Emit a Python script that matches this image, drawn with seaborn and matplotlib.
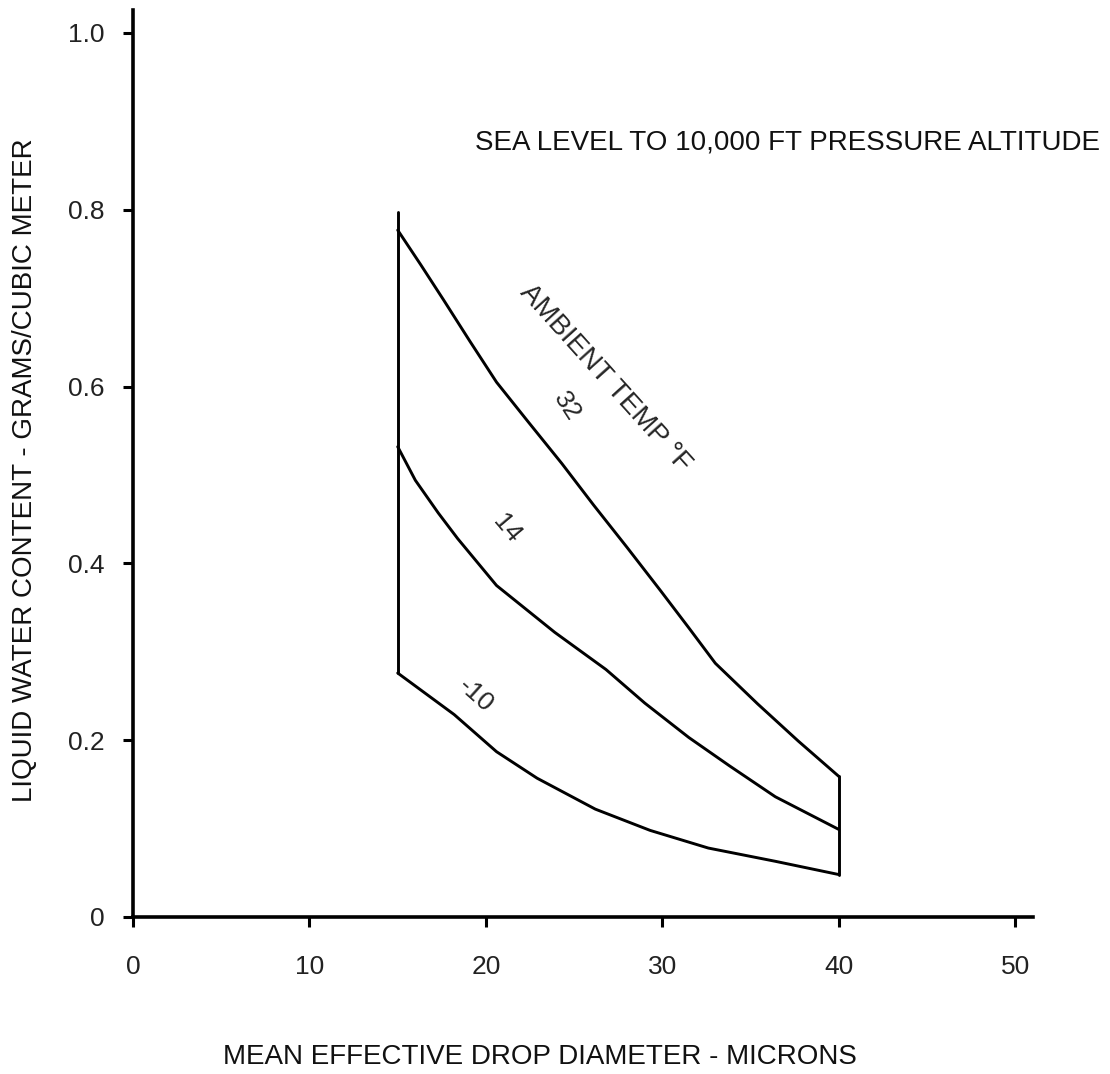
import matplotlib
matplotlib.use("Agg")
import matplotlib.pyplot as plt
import seaborn as sns
import pandas as pd

# curve data (x = microns, y = g/m^3)
x_32 = [15, 16.3, 17.6, 19.1, 20.6, 22.4, 24.3, 26.1, 28.0, 29.9, 31.5, 33.0, 35.4, 37.7, 40]
y_32 = [0.777, 0.738, 0.698, 0.651, 0.605, 0.560, 0.513, 0.466, 0.418, 0.369, 0.327, 0.287, 0.241, 0.199, 0.159]

x_14 = [15, 16.0, 17.3, 18.4, 20.6, 23.9, 26.8, 29.0, 31.5, 33.8, 36.4, 40]
y_14 = [0.532, 0.494, 0.457, 0.428, 0.375, 0.322, 0.280, 0.242, 0.203, 0.171, 0.136, 0.099]

x_m10 = [15, 18.2, 20.6, 22.9, 26.2, 29.3, 32.6, 36.4, 40]
y_m10 = [0.276, 0.229, 0.187, 0.157, 0.122, 0.098, 0.078, 0.063, 0.048]

# envelope edges
x_left = [15, 15]
y_left = [0.276, 0.797]
x_right = [40, 40]
y_right = [0.048, 0.16]

curve_labels = ["32", "14", "-10"]
x_ticks = [0, 10, 20, 30, 40, 50]
y_ticks = [0, 0.2, 0.4, 0.6, 0.8, 1.0]
y_tick_labels = ["0", "0.2", "0.4", "0.6", "0.8", "1.0"]

sns.set_style("white")
plt.rcParams['font.family'] = ['Liberation Sans', 'DejaVu Sans']

fig = plt.figure(figsize=(11.1, 10.74), dpi=100)
ax = fig.add_axes([133 / 1110, 157 / 1074, 900 / 1110, 907 / 1074])

series = [(x_32, y_32), (x_14, y_14), (x_m10, y_m10), (x_left, y_left), (x_right, y_right)]
for xs, ys in series:
    df = pd.DataFrame({"x": xs, "y": ys})
    sns.lineplot(data=df, x="x", y="y", ax=ax, color="black", linewidth=2.1,
                 sort=False, estimator=None)

ax.set_xlim(0, 51.0)
ax.set_ylim(0, 1.026)
ax.set_xticks(x_ticks)
ax.set_xticklabels([str(t) for t in x_ticks])
ax.set_yticks(y_ticks)
ax.set_yticklabels(y_tick_labels)
ax.set_xlabel("")
ax.set_ylabel("")

for side in ["top", "right"]:
    ax.spines[side].set_visible(False)
for side in ["left", "bottom"]:
    ax.spines[side].set_linewidth(2.6)
    ax.spines[side].set_color("black")

fs = 19
fs_text = 20
ax.tick_params(axis="both", which="major", bottom=True, left=True, direction="out",
               length=7.2, width=2.2, color="black", labelsize=fs, labelcolor="#222222")
ax.tick_params(axis="x", pad=20)
ax.tick_params(axis="y", pad=13)

# annotations
ax.text(37.1, 0.876, "SEA LEVEL TO 10,000 FT PRESSURE ALTITUDE", fontsize=fs_text,
        ha="center", va="center", color="#111111")
ax.text(26.75, 0.609, "AMBIENT TEMP °F", fontsize=fs_text, rotation=-48,
        ha="center", va="center", rotation_mode="anchor")
ax.text(24.6, 0.578, curve_labels[0], fontsize=fs, rotation=-57,
        ha="center", va="center", rotation_mode="anchor")
ax.text(21.2, 0.439, curve_labels[1], fontsize=fs, rotation=-50,
        ha="center", va="center", rotation_mode="anchor")
ax.text(19.4, 0.251, curve_labels[2], fontsize=fs, rotation=-42,
        ha="center", va="center", rotation_mode="anchor")

fig.text(25 / 1110, 1 - 470 / 1074, "LIQUID WATER CONTENT - GRAMS/CUBIC METER",
         rotation=90, ha="center", va="center", fontsize=fs_text, color="#111111")
fig.text(540 / 1110, 1 - 1057 / 1074, "MEAN EFFECTIVE DROP DIAMETER - MICRONS",
         ha="center", va="center", fontsize=fs_text, color="#111111")

fig.savefig("out.png", dpi=100, facecolor="white")
